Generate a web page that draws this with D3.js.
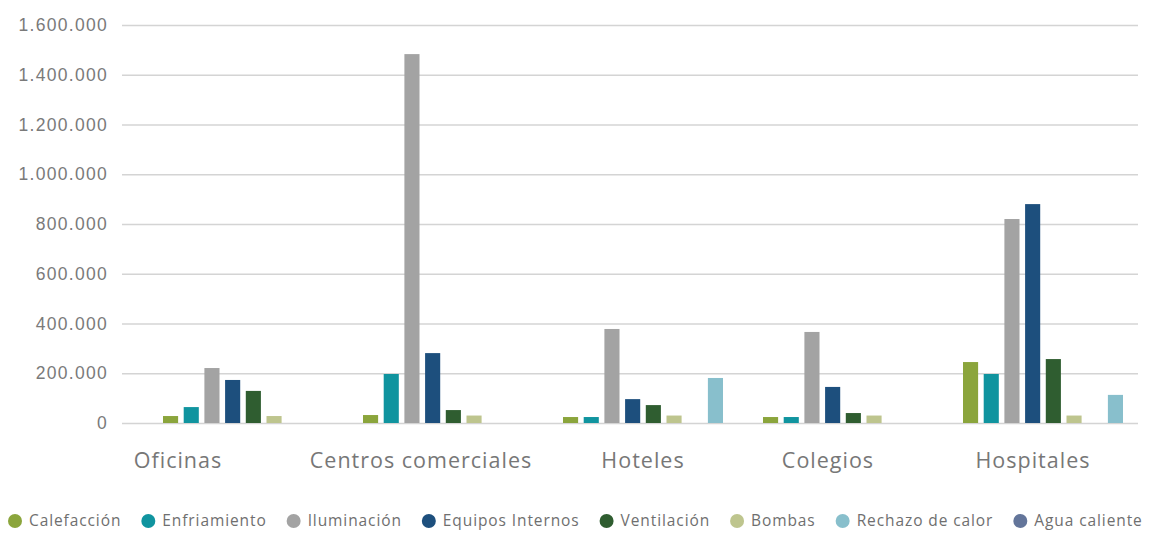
<!DOCTYPE html>
<html>
<head>
<meta charset="utf-8">
<script src="https://cdn.jsdelivr.net/npm/d3@7"></script>
<style>
  body { margin: 0; background: #fff; }
  svg { display: block; font-family: "Open Sans", Lato, sans-serif; }
</style>
</head>
<body>
<div id="chart"></div>
<script>
// data
const categories = ["Oficinas", "Centros comerciales", "Hoteles", "Colegios", "Hospitales"];
const legendOrder = ["Calefacción", "Enfriamiento", "Iluminación", "Equipos Internos", "Ventilación", "Bombas", "Rechazo de calor", "Agua caliente"];
// bar slot order inside each group (agua caliente sits before rechazo)
const barOrder = ["Calefacción", "Enfriamiento", "Iluminación", "Equipos Internos", "Ventilación", "Bombas", "Agua caliente", "Rechazo de calor"];
const calefaccion = [28000, 32000, 24000, 24000, 245000];
const enfriamiento = [64000, 197000, 24000, 24000, 197000];
const iluminacion = [221000, 1483000, 378000, 366000, 820000];
const equipos = [173000, 281000, 96000, 145000, 880000];
const ventilacion = [129000, 52000, 72000, 40000, 257000];
const bombas = [28000, 30000, 30000, 30000, 30000];
const rechazo = [0, 0, 181000, 0, 113000];
const aguaCaliente = [0, 0, 0, 0, 0];
const yTicks = [0, 200000, 400000, 600000, 800000, 1000000, 1200000, 1400000, 1600000];

const seriesValues = {
  "Calefacción": calefaccion,
  "Enfriamiento": enfriamiento,
  "Iluminación": iluminacion,
  "Equipos Internos": equipos,
  "Ventilación": ventilacion,
  "Bombas": bombas,
  "Rechazo de calor": rechazo,
  "Agua caliente": aguaCaliente
};

const colors = {
  "Calefacción": "#8ba53c",
  "Enfriamiento": "#10949f",
  "Iluminación": "#a3a3a3",
  "Equipos Internos": "#1d4f7d",
  "Ventilación": "#2f5d30",
  "Bombas": "#bec58e",
  "Rechazo de calor": "#88bfcc",
  "Agua caliente": "#63759a"
};

// category labels in the original are not centred on their groups
const labelShift = [-65, -22, 0, -15, -10];

const width = 1149, height = 533;
const gridLeft = 122, gridRight = 1138;

const svg = d3.select("#chart").append("svg")
  .attr("width", width)
  .attr("height", height);

const y = d3.scaleLinear().domain([0, 1600000]).range([423, 25]);

const x0 = d3.scaleBand().domain(categories).range([143, 1143])
  .paddingInner(0.2).paddingOuter(0.1);
const x1 = d3.scaleBand().domain(barOrder).range([0, x0.bandwidth()])
  .paddingInner(0.27).paddingOuter(0);

// gridlines + tick labels
const yAxis = d3.axisLeft(y)
  .tickValues(yTicks)
  .tickSize(-(gridRight - gridLeft))
  .tickPadding(14)
  .tickFormat(d => d3.format(",")(d).replace(/,/g, "."));

const gAxis = svg.append("g")
  .attr("transform", `translate(${gridLeft},0)`)
  .call(yAxis);
gAxis.select(".domain").remove();
gAxis.selectAll(".tick line").attr("stroke", "#d4d4d4").attr("stroke-width", 1.5);
gAxis.selectAll(".tick text")
  .attr("fill", "#7a7a7a")
  .style("font-size", "17.5px")
  .style("letter-spacing", "1.3px");

// bars
const groups = svg.append("g").selectAll("g")
  .data(categories)
  .join("g")
  .attr("transform", d => `translate(${x0(d)},0)`);

groups.selectAll("rect")
  .data((c, i) => barOrder.map(s => ({ key: s, value: seriesValues[s][i] })))
  .join("rect")
  .attr("x", d => x1(d.key))
  .attr("width", x1.bandwidth())
  .attr("y", d => y(d.value))
  .attr("height", d => y(0) - y(d.value))
  .attr("fill", d => colors[d.key]);

// category labels
svg.append("g").selectAll("text")
  .data(categories)
  .join("text")
  .attr("x", (d, i) => x0(d) + x0.bandwidth() / 2 + labelShift[i])
  .attr("y", 468)
  .attr("text-anchor", "middle")
  .attr("fill", "#777")
  .style("font-size", "21.5px")
  .style("letter-spacing", "1px")
  .text(d => d);

// legend
const legend = svg.append("g").attr("transform", "translate(15,521)");
let lx = 0;
legendOrder.forEach(name => {
  const item = legend.append("g").attr("transform", `translate(${lx},0)`);
  item.append("circle").attr("r", 7).attr("fill", colors[name]);
  const t = item.append("text")
    .attr("x", 14)
    .attr("dy", "0.35em")
    .attr("fill", "#6f6f6f")
    .style("font-size", "15.5px")
    .style("letter-spacing", "0.9px")
    .text(name);
  lx += 14 + t.node().getComputedTextLength() + 27;
});
</script>
</body>
</html>
